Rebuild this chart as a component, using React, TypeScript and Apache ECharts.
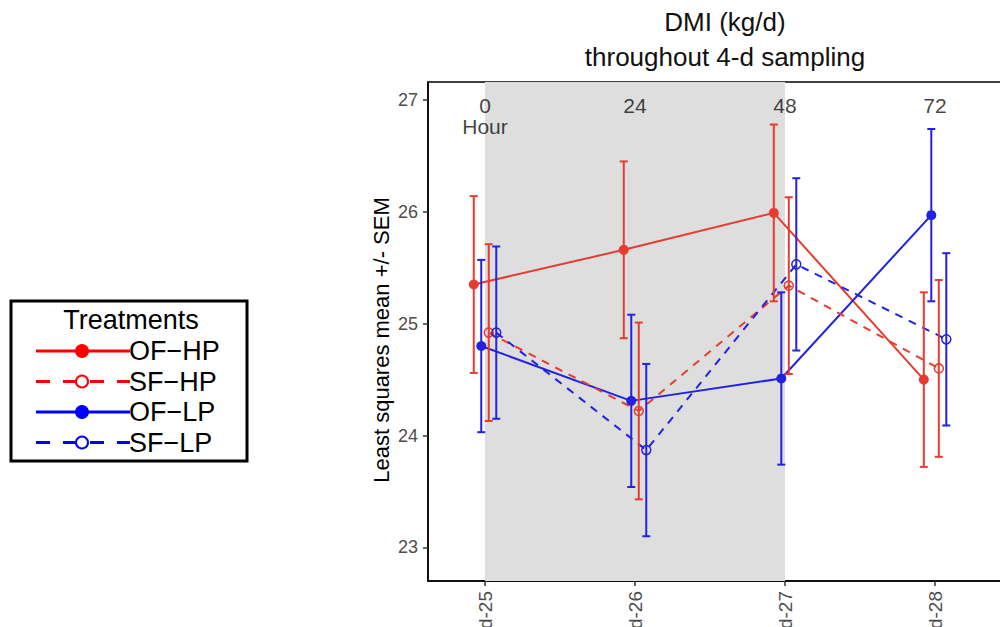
import React, { useEffect, useRef } from "react";
import * as echarts from "echarts";

const DAYS = [25, 26, 27, 28];
const DAY_LABELS = ["d-25", "d-26", "d-27", "d-28"];
const HOUR_LABELS = ["0\nHour", "24", "48", "72"];
const Y_TICKS = [23, 24, 25, 26, 27];

const OF_HP_MEAN = [25.35, 25.66, 25.99, 24.5];
const OF_HP_SEM = [0.79, 0.79, 0.79, 0.78];
const OF_LP_MEAN = [24.8, 24.31, 24.51, 25.97];
const OF_LP_SEM = [0.77, 0.77, 0.77, 0.77];
const SF_HP_MEAN = [24.92, 24.22, 25.34, 24.6];
const SF_HP_SEM = [0.79, 0.79, 0.79, 0.79];
const SF_LP_MEAN = [24.92, 23.87, 25.53, 24.86];
const SF_LP_SEM = [0.77, 0.77, 0.77, 0.77];

const SHADE_FROM = 25;
const SHADE_TO = 27;

const RED = "#e63c30";
const BLUE = "#2222e2";
const FONT = "Liberation Sans";

type Tr = {
  name: string;
  mean: number[];
  sem: number[];
  color: string;
  legendColor: string;
  dashed: boolean;
  filled: boolean;
  dodge: number;
};

const TREATMENTS: Tr[] = [
  { name: "OF\u2212HP", mean: OF_HP_MEAN, sem: OF_HP_SEM, color: RED, legendColor: "#ff0000", dashed: false, filled: true, dodge: -0.075 },
  { name: "OF\u2212LP", mean: OF_LP_MEAN, sem: OF_LP_SEM, color: BLUE, legendColor: "#0000ff", dashed: false, filled: true, dodge: -0.025 },
  { name: "SF\u2212HP", mean: SF_HP_MEAN, sem: SF_HP_SEM, color: RED, legendColor: "#ff0000", dashed: true, filled: false, dodge: 0.025 },
  { name: "SF\u2212LP", mean: SF_LP_MEAN, sem: SF_LP_SEM, color: BLUE, legendColor: "#0000ff", dashed: true, filled: false, dodge: 0.075 },
];
const LEGEND_ORDER = [0, 2, 1, 3];

export default function App() {
  const ref = useRef<HTMLDivElement>(null);
  useEffect(() => {
    if (!ref.current) return;
    const chart = echarts.init(ref.current, null, { renderer: "svg" });

    const series: any[] = [];
    series.push({
      type: "line",
      data: [],
      z: 0,
      silent: true,
      markArea: {
        silent: true,
        itemStyle: { color: "#dedede" },
        data: [[{ xAxis: SHADE_FROM, yAxis: 22.7 }, { xAxis: SHADE_TO, yAxis: 27.16 }]],
      },
    });

    TREATMENTS.forEach((t) => {
      series.push({
        type: "line",
        name: t.name,
        z: 3,
        data: DAYS.map((d, i) => [d + t.dodge, t.mean[i]]),
        symbol: "circle",
        symbolSize: t.filled ? 10 : 9,
        showSymbol: true,
        lineStyle: { color: t.color, width: 2, type: t.dashed ? [8, 7] : "solid" },
        itemStyle: t.filled
          ? { color: t.color, borderWidth: 0 }
          : { color: "rgba(0,0,0,0)", borderColor: t.color, borderWidth: 1.5 },
      });
      series.push({
        type: "custom",
        name: t.name + " err",
        z: 4,
        data: DAYS.map((d, i) => [d + t.dodge, t.mean[i] - t.sem[i], t.mean[i] + t.sem[i]]),
        encode: { x: 0, y: [1, 2] },
        renderItem: (params: any, api: any) => {
          const x = api.value(0);
          const p1 = api.coord([x, api.value(1)]);
          const p2 = api.coord([x, api.value(2)]);
          const w = 4;
          const st = { stroke: t.color, lineWidth: 2 };
          return {
            type: "group",
            children: [
              { type: "line", shape: { x1: p1[0], y1: p1[1], x2: p2[0], y2: p2[1] }, style: st },
              { type: "line", shape: { x1: p1[0] - w, y1: p1[1], x2: p1[0] + w, y2: p1[1] }, style: st },
              { type: "line", shape: { x1: p2[0] - w, y1: p2[1], x2: p2[0] + w, y2: p2[1] }, style: st },
            ],
          };
        },
      });
    });

    series.push({
      type: "scatter",
      z: 5,
      symbolSize: 0,
      silent: true,
      data: DAYS.map((d, i) => ({ value: [d, 26.95], name: HOUR_LABELS[i] })),
      label: {
        show: true,
        position: "inside",
        verticalAlign: "top",
        offset: [0, -10],
        formatter: (p: any) => p.name,
        color: "#111",
        fontSize: 21,
        lineHeight: 21,
        fontFamily: FONT,
      },
    });

    const legendChildren: any[] = [
      {
        type: "rect",
        shape: { x: 11, y: 301, width: 236, height: 160 },
        style: { fill: "#fff", stroke: "#000", lineWidth: 3 },
      },
      {
        type: "text",
        x: 131,
        y: 320,
        style: {
          text: "Treatments",
          font: `27px '${FONT}'`,
          fill: "#000",
          align: "center",
          verticalAlign: "middle",
        },
      },
    ];
    LEGEND_ORDER.forEach((idx, k) => {
      const t = TREATMENTS[idx];
      const cy = 351 + k * 30.5;
      legendChildren.push({
        type: "line",
        shape: { x1: 36, y1: cy, x2: 130, y2: cy },
        style: { stroke: t.legendColor, lineWidth: 3, lineDash: t.dashed ? [14, 13] : null },
      });
      legendChildren.push({
        type: "circle",
        shape: { cx: 82, cy, r: t.filled ? 7 : 6 },
        style: t.filled
          ? { fill: t.legendColor }
          : { fill: "#fff", stroke: t.legendColor, lineWidth: 2 },
      });
      legendChildren.push({
        type: "text",
        x: 129,
        y: cy,
        style: {
          text: t.name,
          font: `27px '${FONT}'`,
          fill: "#000",
          align: "left",
          verticalAlign: "middle",
        },
      });
    });

    chart.setOption({
      animation: false,
      backgroundColor: "#fff",
      textStyle: { fontFamily: FONT },
      title: {
        text: "DMI (kg/d)\nthroughout 4-d sampling",
        left: 720,
        textAlign: "center",
        top: -1,
        textStyle: { fontSize: 26, fontWeight: "normal", color: "#111", lineHeight: 35, fontFamily: FONT },
      },
      grid: {
        left: 428,
        top: 82,
        width: 584,
        height: 499,
        show: true,
        borderColor: "#000",
        borderWidth: 1.5,
        backgroundColor: "transparent",
      },
      xAxis: {
        type: "value",
        min: 24.62,
        max: 28.513,
        axisLine: { show: true, lineStyle: { color: "#000", width: 1.5 } },
        axisTick: { show: true, customValues: DAYS, length: 5, lineStyle: { color: "#333", width: 1.5 } },
        axisLabel: {
          show: true,
          customValues: DAYS,
          rotate: 90,
          margin: 10,
          fontSize: 19,
          color: "#4d4d4d",
          fontFamily: FONT,
          formatter: (v: number) => DAY_LABELS[DAYS.indexOf(Math.round(v))] || "",
        },
        splitLine: { show: false },
      },
      yAxis: {
        type: "value",
        min: 22.7,
        max: 27.16,
        axisLine: { show: true, lineStyle: { color: "#000", width: 1.5 } },
        axisTick: { show: true, customValues: Y_TICKS, length: 5, lineStyle: { color: "#333", width: 1.5 } },
        axisLabel: { show: true, customValues: Y_TICKS, margin: 10, fontSize: 18, color: "#4d4d4d", fontFamily: FONT },
        splitLine: { show: false },
      },
      graphic: [
        { type: "group", children: legendChildren },
        {
          type: "text",
          x: 381,
          y: 340,
          rotation: Math.PI / 2,
          style: {
            text: "Least squares mean +/- SEM",
            font: `22px '${FONT}'`,
            fill: "#000",
            align: "center",
            verticalAlign: "middle",
          },
        },
      ],
      series,
    });
    return () => chart.dispose();
  }, []);
  return (
    <div
      ref={ref}
      style={{ position: "fixed", left: 0, top: 0, width: 1040, height: 640, background: "#fff" }}
    />
  );
}
